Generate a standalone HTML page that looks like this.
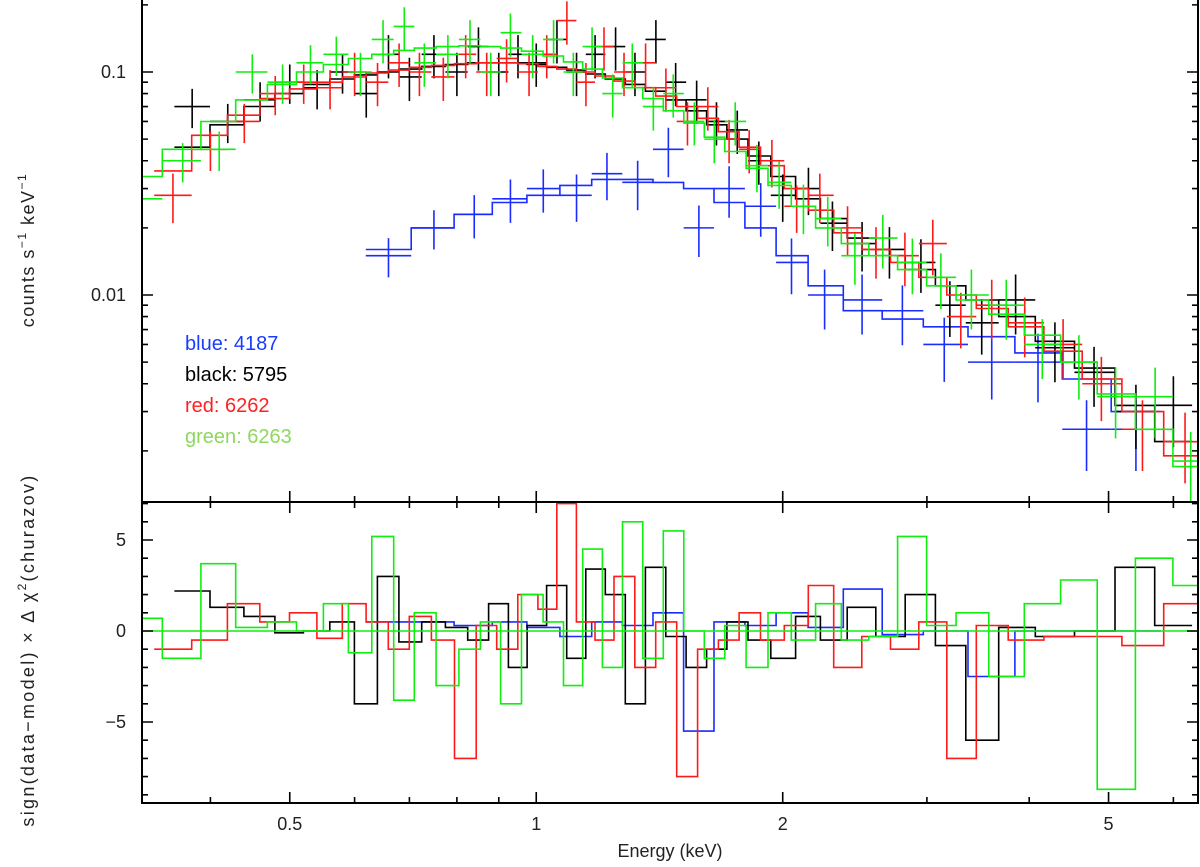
<!DOCTYPE html>
<html><head><meta charset="utf-8"><style>
body{margin:0;background:#fff;}
svg{display:block;font-family:"Liberation Sans",sans-serif;}
</style></head><body>
<svg id="c" width="1200" height="867">
<defs>
<clipPath id="ct"><rect x="142" y="0" width="1056" height="502"/></clipPath>
<clipPath id="cb"><rect x="142" y="502" width="1056" height="301"/></clipPath>
</defs>
<g id="topPanel" clip-path="url(#ct)"></g>
<g id="botPanel" clip-path="url(#cb)"></g>
<g id="axes"></g>
<text x="185" y="350" font-size="20" fill="#1a3cff">blue: 4187</text>
<text x="185" y="381" font-size="20" fill="#000">black: 5795</text>
<text x="185" y="412" font-size="20" fill="#ff2020">red: 6262</text>
<text x="185" y="443" font-size="20" fill="#8ed760">green: 6263</text>
<text transform="translate(34,250) rotate(-90)" text-anchor="middle" font-size="18" fill="#222" letter-spacing="1.5">counts  s<tspan dy="-8" font-size="12">−1</tspan><tspan dy="8">  keV</tspan><tspan dy="-8" font-size="12">−1</tspan></text>
<text transform="translate(34,650) rotate(-90)" text-anchor="middle" font-size="18" fill="#222" letter-spacing="2.3">sign(data−model) × Δ χ<tspan dy="-8" font-size="12">2</tspan><tspan dy="8">(churazov)</tspan></text>
<text x="670" y="857" text-anchor="middle" font-size="18" fill="#222">Energy (keV)</text>
</svg>
<script>
// ---- data ----
const blackE=[0.38,0.42,0.46,0.5,0.54,0.58,0.62,0.66,0.7,0.75,0.8,0.85,0.9,0.95,1.0,1.06,1.12,1.18,1.25,1.32,1.4,1.48,1.57,1.66,1.76,1.87,2.0,2.15,2.3,2.5,2.7,2.95,3.2,3.5,3.85,4.3,4.8,5.4,6.0];
const blackModel=[0.046,0.058,0.07,0.08,0.088,0.093,0.097,0.1,0.103,0.106,0.108,0.11,0.11,0.11,0.108,0.105,0.102,0.098,0.093,0.088,0.082,0.075,0.067,0.058,0.05,0.042,0.034,0.027,0.022,0.018,0.015,0.013,0.011,0.0095,0.008,0.0062,0.0047,0.0032,0.0022];
const blackData=[0.07,0.06,0.075,0.09,0.085,0.1,0.08,0.12,0.095,0.12,0.1,0.13,0.1,0.12,0.11,0.14,0.1,0.12,0.13,0.1,0.14,0.09,0.075,0.06,0.055,0.04,0.028,0.03,0.021,0.017,0.016,0.014,0.009,0.0075,0.0095,0.0058,0.0045,0.003,0.0032];
const blackErr=[0.2,0.2,0.2,0.2,0.2,0.2,0.22,0.22,0.22,0.22,0.22,0.22,0.22,0.22,0.22,0.22,0.22,0.22,0.22,0.22,0.22,0.22,0.22,0.22,0.22,0.22,0.24,0.24,0.25,0.25,0.26,0.27,0.28,0.28,0.3,0.3,0.3,0.32,0.35];
const blackRes=[2.2,1.3,0.8,-0.1,0,0.5,-4,3,-0.6,0.5,0.2,-0.5,1.5,-2,0.3,2.5,-1.5,3.4,2,-4,3.5,-0.3,-2,-1,0.5,-0.5,-1.5,0.8,-0.5,1.3,-0.3,2,-0.8,-6,0.2,-0.3,0,3.5,0.3];

const redE=[0.36,0.4,0.44,0.48,0.52,0.56,0.6,0.64,0.68,0.72,0.77,0.82,0.87,0.92,0.98,1.03,1.09,1.15,1.21,1.28,1.36,1.44,1.53,1.62,1.72,1.82,1.94,2.08,2.22,2.4,2.6,2.82,3.05,3.3,3.6,3.95,4.4,4.9,5.5,6.2];
const redModel=[0.036,0.052,0.064,0.076,0.084,0.09,0.095,0.099,0.102,0.105,0.107,0.109,0.11,0.11,0.109,0.106,0.103,0.1,0.096,0.091,0.085,0.078,0.07,0.062,0.054,0.046,0.038,0.03,0.024,0.019,0.016,0.014,0.012,0.01,0.0087,0.0072,0.0056,0.0042,0.003,0.0019];
const redData=[0.028,0.045,0.06,0.08,0.09,0.085,0.1,0.09,0.11,0.1,0.095,0.12,0.1,0.115,0.1,0.12,0.17,0.09,0.13,0.1,0.11,0.085,0.06,0.07,0.05,0.045,0.04,0.025,0.028,0.02,0.016,0.015,0.017,0.008,0.009,0.0075,0.006,0.004,0.0025,0.0022];
const redErr=[0.25,0.2,0.2,0.2,0.2,0.2,0.22,0.22,0.22,0.22,0.22,0.22,0.22,0.22,0.22,0.22,0.22,0.22,0.22,0.22,0.22,0.22,0.22,0.22,0.22,0.22,0.24,0.24,0.25,0.25,0.26,0.27,0.28,0.28,0.3,0.3,0.3,0.32,0.35,0.35];
const redRes=[-1,-0.5,1.5,0.5,1,-0.4,1.5,0.5,-1,0.8,-0.5,-7,0.3,-1,2,1.2,7,0.5,-0.5,3,-2,0.5,-8,-1,-0.5,1,-0.5,0.3,2.5,-2,-0.3,-1,0.5,-7,0.3,-0.5,-0.3,-0.3,-0.8,1.5];

const greenE=[0.33,0.37,0.41,0.45,0.49,0.53,0.57,0.61,0.65,0.69,0.73,0.78,0.83,0.88,0.93,0.99,1.05,1.11,1.17,1.24,1.31,1.39,1.47,1.56,1.65,1.75,1.86,1.98,2.12,2.27,2.45,2.65,2.88,3.12,3.4,3.75,4.15,4.6,5.1,5.7,6.3];
const greenModel=[0.034,0.045,0.06,0.075,0.088,0.1,0.108,0.115,0.12,0.125,0.128,0.13,0.131,0.13,0.128,0.124,0.118,0.111,0.103,0.094,0.085,0.076,0.067,0.059,0.051,0.044,0.037,0.031,0.025,0.02,0.017,0.015,0.013,0.011,0.0095,0.0082,0.0066,0.005,0.0036,0.0025,0.0017];
const greenData=[0.027,0.04,0.045,0.1,0.09,0.11,0.12,0.1,0.14,0.16,0.11,0.12,0.14,0.1,0.15,0.12,0.14,0.1,0.13,0.08,0.11,0.07,0.08,0.06,0.05,0.06,0.038,0.032,0.025,0.022,0.015,0.018,0.014,0.012,0.01,0.009,0.006,0.005,0.0035,0.0035,0.0018];
const greenErr=[0.22,0.2,0.2,0.2,0.2,0.2,0.2,0.22,0.22,0.22,0.22,0.22,0.22,0.22,0.22,0.22,0.22,0.22,0.22,0.22,0.22,0.22,0.22,0.22,0.22,0.22,0.24,0.24,0.25,0.25,0.26,0.27,0.28,0.28,0.3,0.3,0.3,0.32,0.35,0.35,0.35];
const greenRes=[0.7,-1.5,3.7,0.2,0.5,0,1.5,-1.2,5.2,-3.8,1,-3,-1,0.5,-4,2,0.5,-3,4.5,-2,6,-1.5,5.5,0,-1.5,0.3,-2,1,-0.5,1.5,-0.5,-0.3,5.2,0.3,1,-2.5,1.5,2.8,-8.7,4,2.5];

const blueE=[0.66,0.75,0.84,0.93,1.02,1.12,1.22,1.33,1.45,1.58,1.72,1.88,2.05,2.25,2.5,2.8,3.15,3.6,4.1,4.7,5.4];
const blueModel=[0.016,0.02,0.023,0.026,0.028,0.031,0.033,0.033,0.032,0.03,0.026,0.02,0.015,0.011,0.0085,0.0078,0.0072,0.0065,0.0055,0.0042,0.003];
const blueData=[0.015,0.02,0.023,0.027,0.03,0.028,0.035,0.032,0.045,0.02,0.03,0.025,0.014,0.01,0.0095,0.0085,0.006,0.005,0.005,0.0025,0.0025];
const blueErr=[0.2,0.2,0.22,0.22,0.22,0.24,0.24,0.25,0.25,0.26,0.26,0.27,0.28,0.3,0.3,0.3,0.32,0.32,0.34,0.35,0.35];
const blueRes=[0.5,0.5,0.3,0.5,0.2,-0.3,0.5,0.3,1,-5.5,0.5,0.3,1,0.2,2.3,-0.2,0,-2.5,0,0,0];

const xMajor=[0.5,1,2,5], xMajorLabels=["0.5","1","2","5"];
const xMinor=[0.4,0.6,0.7,0.8,0.9,3,4,6];
const yTopMajor=[0.1,0.01], yTopLabels=["0.1","0.01"];
const yBotMajor=[5,0,-5], yBotLabels=["5","0","−5"];

// ---- axes ----
const L=142,R=1198,T=0,M=502,B=803;
const lx0=Math.log10(0.33), lx1=Math.log10(6.43);
const X=e=>L+(Math.log10(e)-lx0)/(lx1-lx0)*(R-L);
const Yt=v=>72-(Math.log10(v)+1)*223;
const Yb=v=>631-v*18.2;
const NS="http://www.w3.org/2000/svg";
function mk(tag,attrs,parent){const el=document.createElementNS(NS,tag);for(const k in attrs)el.setAttribute(k,attrs[k]);parent.appendChild(el);return el;}
const topG=document.getElementById('topPanel'),botG=document.getElementById('botPanel'),axG=document.getElementById('axes');

function edges(E){const ed=[];for(let i=0;i<E.length;i++){const lo=i?Math.sqrt(E[i-1]*E[i]):E[i]*E[i]/Math.sqrt(E[i]*E[i+1]);const hi=i<E.length-1?Math.sqrt(E[i]*E[i+1]):E[i]*E[i]/Math.sqrt(E[i-1]*E[i]);ed.push([lo,hi]);}return ed;}
function stepPath(ed,vals,Y){let d='';ed.forEach((b,i)=>{const y=Y(vals[i]);d+=(i?'L':'M')+X(b[0]).toFixed(1)+','+y.toFixed(1)+'L'+X(b[1]).toFixed(1)+','+y.toFixed(1);});return d;}

function series(name,col,E,model,data,err,res){
  const ed=edges(E);
  const g=mk('g',{},topG);
  
  
  const m=mk('path',{d:stepPath(ed,model,Yt),fill:'none',stroke:col,'stroke-width':1.6},g);
  
  
  E.forEach((e,i)=>{
    const y=Yt(data[i]);
    const p=mk('path',{d:`M${X(ed[i][0])},${y}H${X(ed[i][1])}M${X(e)},${Yt(data[i]*(1+err[i]))}V${Yt(data[i]*(1-err[i]))}`,stroke:col,'stroke-width':1.6,fill:'none'},g);
    
    
  });
  const r=mk('path',{d:stepPath(ed,res,Yb),fill:'none',stroke:col,'stroke-width':1.6},botG);
  
  
}
series('blue','#1a2cff',blueE,blueModel,blueData,blueErr,blueRes);
series('black','#000',blackE,blackModel,blackData,blackErr,blackRes);
series('red','#ff1a1a',redE,redModel,redData,redErr,redRes);
series('green','#10ee10',greenE,greenModel,greenData,greenErr,greenRes);
const z=mk('line',{x1:L,x2:R,y1:Yb(0),y2:Yb(0),stroke:'#10ee10','stroke-width':1.6},botG);



const fr=mk('path',{d:`M${L},${T}V${B}H${R}V${T}M${L},${M}H${R}`,fill:'none',stroke:'#000','stroke-width':2},axG);


let td='';
xMajor.forEach(e=>{const x=X(e);td+=`M${x},${M}v-11M${x},${M}v11M${x},${B}v-11`;});
xMinor.forEach(e=>{const x=X(e);td+=`M${x},${M}v-6M${x},${M}v6M${x},${B}v-6`;});
[-3,-2,-1].forEach(p=>{for(let k=1;k<10;k++){const v=k*Math.pow(10,p);const y=Yt(v);if(y<T||y>M)continue;const len=k==1?11:6;td+=`M${L},${y}h${len}M${R},${y}h-${len}`;}});
for(let v=-9;v<=7;v++){const y=Yb(v);if(y<M||y>B)continue;const len=v%5==0?11:6;td+=`M${L},${y}h${len}M${R},${y}h-${len}`;}
const tk=mk('path',{d:td,stroke:'#000','stroke-width':1.6,fill:'none'},axG);


xMajor.forEach((e,i)=>{const t=mk('text',{x:X(e),y:830,'text-anchor':'middle','font-size':18,fill:'#222'},axG);t.textContent=xMajorLabels[i];

});
yTopMajor.forEach((v,i)=>{const t=mk('text',{x:126,y:Yt(v)+6,'text-anchor':'end','font-size':18,fill:'#222'},axG);t.textContent=yTopLabels[i];

});
yBotMajor.forEach((v,i)=>{const t=mk('text',{x:126,y:Yb(v)+6,'text-anchor':'end','font-size':18,fill:'#222'},axG);t.textContent=yBotLabels[i];

});
</script>
</body></html>
